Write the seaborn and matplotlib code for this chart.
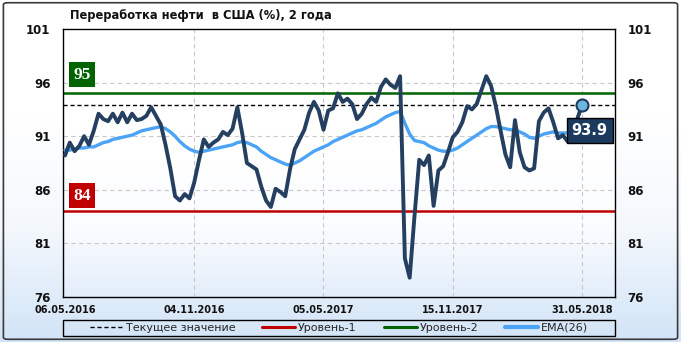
import numpy as np
import pandas as pd
import matplotlib
matplotlib.use("Agg")
import matplotlib.pyplot as plt
import seaborn as sns
from matplotlib.colors import LinearSegmentedColormap
from matplotlib.patches import Rectangle, FancyBboxPatch
from matplotlib.lines import Line2D

sns.set_theme(style="white")
plt.rcParams['font.family'] = ['DejaVu Sans']

# ---------------- data ----------------
title = "Переработка нефти  в США (%), 2 года"
tick_dates = ["06.05.2016", "04.11.2016", "05.05.2017", "15.11.2017", "31.05.2018"]
tick_index = [0, 27, 54, 81, 108]
y_ticks = [76, 81, 86, 91, 96, 101]

refining = [
    89.2, 90.4, 89.6, 90.1, 91.0, 90.2, 91.5, 93.1, 92.6, 92.4,
    93.1, 92.3, 93.2, 92.3, 93.1, 92.5, 92.6, 92.9, 93.7, 92.9,
    92.1, 90.2, 88.0, 85.4, 85.0, 85.6, 85.2, 86.7, 88.8, 90.7,
    90.0, 90.4, 90.7, 91.4, 91.1, 91.7, 93.7, 91.3, 88.5, 88.2,
    87.9, 86.3, 85.0, 84.4, 86.1, 85.8, 85.4, 87.9, 89.8, 90.7,
    91.6, 93.2, 94.2, 93.4, 91.6, 93.4, 93.6, 95.0, 94.2, 94.5,
    94.0, 92.6, 93.1, 94.0, 94.6, 94.2, 95.6, 96.3, 95.8, 95.5,
    96.6, 79.6, 77.8, 83.5, 88.8, 88.3, 89.2, 84.5, 87.8, 88.2,
    89.5, 90.9, 91.4, 92.3, 93.8, 93.5, 94.0, 95.3, 96.6, 95.7,
    93.8, 91.5, 89.3, 88.1, 92.5, 89.5, 88.1, 87.8, 88.0, 92.4,
    93.2, 93.6, 92.3, 90.8, 91.1, 90.5, 91.3, 92.6, 93.9,
]
ema26 = [
    89.7, 89.7, 89.8, 89.9, 89.9, 90.0, 90.0, 90.2, 90.4, 90.5,
    90.7, 90.8, 90.9, 91.0, 91.1, 91.3, 91.5, 91.6, 91.7, 91.8,
    91.9, 91.7, 91.4, 91.0, 90.5, 90.1, 89.8, 89.6, 89.5, 89.6,
    89.7, 89.8, 89.9, 90.0, 90.1, 90.2, 90.4, 90.5, 90.4, 90.2,
    90.0, 89.6, 89.3, 89.0, 88.8, 88.6, 88.4, 88.3, 88.5, 88.7,
    89.0, 89.3, 89.6, 89.8, 90.0, 90.2, 90.5, 90.7, 90.9, 91.1,
    91.3, 91.5, 91.6, 91.8, 92.0, 92.2, 92.5, 92.8, 93.0, 93.2,
    93.3, 92.2, 91.2, 90.6, 90.5, 90.4, 90.1, 89.9, 89.7, 89.6,
    89.6, 89.7, 89.9, 90.2, 90.5, 90.8, 91.1, 91.4, 91.7, 91.9,
    91.9, 91.8, 91.7, 91.6, 91.6, 91.4, 91.2, 90.9, 90.8, 91.0,
    91.2, 91.3, 91.4, 91.3, 91.3, 91.3, 91.3, 91.3, 91.4,
]
current_value = 93.9
level_1 = 84
level_2 = 95
legend_labels = ["Текущее значение", "Уровень-1", "Уровень-2", "EMA(26)"]

df = pd.DataFrame({"idx": np.arange(len(refining)), "value": refining, "ema": ema26})

# ---------------- figure ----------------
W, H = 681, 342
fig = plt.figure(figsize=(W / 100, H / 100), dpi=100)

# background gradient
bg = fig.add_axes([0, 0, 1, 1], zorder=-10)
grad = np.linspace(0, 1, 256).reshape(-1, 1)
cmap_bg = LinearSegmentedColormap.from_list("bg", ["#ffffff", "#ffffff", "#f4f8fd", "#d2e4f7"])
bg.imshow(grad, aspect="auto", cmap=cmap_bg, extent=[0, 1, 0, 1], origin="upper")
bg.set_xlim(0, 1)
bg.set_ylim(0, 1)
bg.axis("off")
bg.add_patch(FancyBboxPatch((0.005, 0.008), 0.99, 0.984,
                            boxstyle="round,pad=0,rounding_size=0.006",
                            transform=bg.transAxes, fill=False,
                            edgecolor="#3a3a3a", lw=1.2))

ax = fig.add_axes([63 / W, 1 - 297 / H, (615 - 63) / W, (297 - 29) / H])
ax.set_facecolor("none")
cmap_ax = LinearSegmentedColormap.from_list("ax", ["#ffffff", "#ffffff", "#ffffff", "#fafcff", "#e3eefa"])
ax.imshow(grad, aspect="auto", cmap=cmap_ax, extent=[0, 1, 0, 1],
          origin="upper", transform=ax.transAxes, zorder=0)

step = 517 / 108
xmin, xmax = -2 / step, 550 / step

# grid
for t in tick_index[1:]:
    ax.axvline(t, color="#c9c9c9", lw=0.8, ls=(0, (4, 3)), zorder=1)
for yv in y_ticks[1:-1]:
    ax.axhline(yv, color="#c9c9c9", lw=0.8, ls=(0, (4, 3)), zorder=1)

# levels
ax.axhline(level_2, color="#006400", lw=1.8, zorder=2)
ax.axhline(level_1, color="#c00000", lw=1.8, zorder=2)
ax.axhline(current_value, color="black", lw=1.0, ls=(0, (3, 2)), zorder=2)

sns.lineplot(data=df, x="idx", y="ema", color="#4ba3f5", lw=2.4, ax=ax, zorder=3)
sns.lineplot(data=df, x="idx", y="value", color="#243f60", lw=2.8, ax=ax, zorder=4)
sns.scatterplot(x=[df["idx"].iloc[-1]], y=[df["value"].iloc[-1]], s=75,
                color="#6cb8dc", edgecolor="#1f3a5f", linewidth=1.5, ax=ax, zorder=6)

ax.set_xlim(xmin, xmax)
ax.set_ylim(76, 101)
ax.set_xlabel("")
ax.set_ylabel("")

ax.set_yticks(y_ticks)
ax.set_yticklabels([str(v) for v in y_ticks], fontweight="bold", fontsize=8.5, color="#111111")
ax.set_xticks(tick_index)
ax.set_xticklabels(tick_dates, fontweight="bold", fontsize=7, color="#111111")
ax.tick_params(axis="y", which="both", left=False, right=False,
               labelleft=True, labelright=True, length=0, pad=9)
ax.tick_params(axis="x", length=0, pad=6)
for s in ax.spines.values():
    s.set_visible(True)
    s.set_color("black")
    s.set_linewidth(1.0)

# level labels
ax.text(3.6, level_2 + 1.75, str(level_2), color="white", fontsize=12.5,
        fontweight="bold", family="Liberation Serif", ha="center", va="center",
        bbox=dict(boxstyle="square,pad=0.25", facecolor="#006400", edgecolor="none"),
        zorder=7)
ax.text(3.5, level_1 + 1.45, str(level_1), color="white", fontsize=12.5,
        fontweight="bold", family="Liberation Serif", ha="center", va="center",
        bbox=dict(boxstyle="square,pad=0.25", facecolor="#c00000", edgecolor="none"),
        zorder=7)
ax.text(109.6, current_value - 2.37, f"{current_value:.1f}", color="white", fontsize=10.5,
        fontweight="bold", ha="center", va="center",
        bbox=dict(boxstyle="square,pad=0.35", facecolor="#1c3a5e", edgecolor="black", lw=1),
        zorder=7)

# title
fig.text(70 / W, 1 - 15 / H, title, fontsize=8.3, fontweight="bold", color="#111111",
         ha="left", va="center")

# legend
fig.patches.append(Rectangle((63 / W, 1 - 336 / H), (615 - 63) / W, 16 / H,
                             transform=fig.transFigure, fill=False,
                             edgecolor="black", lw=1.0))
handles = [
    Line2D([0], [0], color="black", lw=1.0, ls=(0, (3, 2))),
    Line2D([0], [0], color="#c00000", lw=2.2),
    Line2D([0], [0], color="#006400", lw=2.2),
    Line2D([0], [0], color="#4ba3f5", lw=3.0),
]
fig.legend(handles, legend_labels, loc="center",
           bbox_to_anchor=((63 + 615) / 2 / W, 1 - 328 / H), ncol=4,
           frameon=False, fontsize=8, handlelength=3.0, handletextpad=0.25,
           columnspacing=2.4, borderpad=0.1)

fig.savefig("out.png", dpi=100)
